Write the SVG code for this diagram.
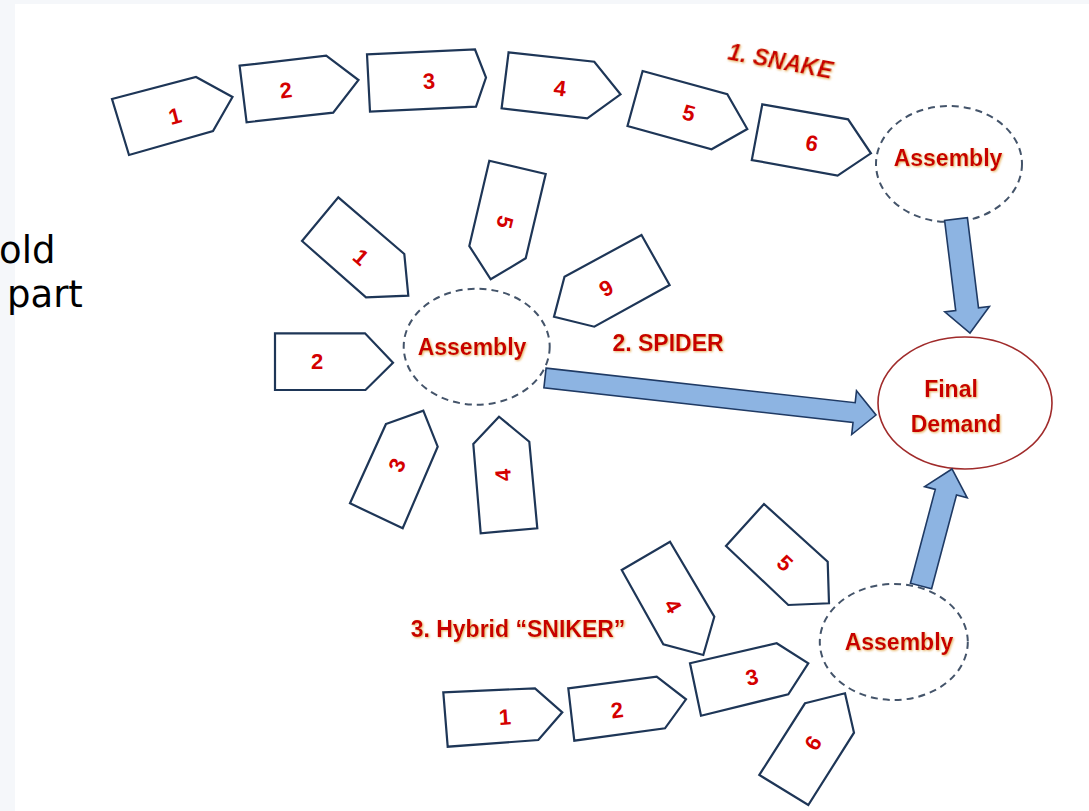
<svg xmlns="http://www.w3.org/2000/svg" width="1089" height="811" viewBox="0 0 1089 811">
<style>
.bg{fill:#f5f7fa}
.panel{fill:#ffffff}
.part{fill:#ffffff;stroke:#1e3657;stroke-width:2.2;stroke-linejoin:miter}
.num{font-family:"Liberation Sans",Arial,sans-serif;font-size:22px;font-weight:bold;fill:#d40000;text-anchor:middle}
.asm{fill:none;stroke:#44546a;stroke-width:2;stroke-dasharray:7 5}
.lbl{font-family:"Liberation Sans",Arial,sans-serif;font-size:23px;font-weight:bold;fill:#c80000;text-anchor:middle;filter:url(#glow)}
.arrow{fill:#8db4e2;stroke:#1f3a64;stroke-width:1.6;stroke-linejoin:miter}
.fd{fill:#ffffff;stroke:#a02b2b;stroke-width:1.6}
.side{font-family:"DejaVu Sans","Liberation Sans",sans-serif;font-size:37px;fill:#000000}
</style>
<defs>
<filter id="glow" x="-10%" y="-30%" width="120%" height="160%">
<feDropShadow dx="1" dy="1" stdDeviation="0.8" flood-color="#e0a040" flood-opacity="0.8"/>
</filter>
</defs>
<rect class="bg" x="0" y="0" width="1089" height="811"/>
<rect class="panel" x="15" y="4" width="1074" height="807"/>
<text class="side" x="-1" y="263">old</text>
<text class="side" x="7" y="307">part</text>

<g id="snake">
<g id="snake-1"><polygon class="part" points="112,99 196,77 232.5,97 213,131 129,155"/><text class="num" transform="translate(175,116) rotate(-15)" dy="0.35em">1</text></g>
<g id="snake-2"><polygon class="part" points="239.6,65.7 326.2,55.7 358.5,80 333.2,112.7 246.6,122.3"/><text class="num" transform="translate(286,90) rotate(-7)" dy="0.35em">2</text></g>
<g id="snake-3"><polygon class="part" points="367,54.3 475,49.5 486,77.5 476,106.7 370,111.7"/><text class="num" transform="translate(429,81) rotate(-3)" dy="0.35em">3</text></g>
<g id="snake-4"><polygon class="part" points="508.6,52.3 594.3,61.7 620.5,94.3 587.3,118.3 501.6,108.3"/><text class="num" transform="translate(560,88) rotate(7)" dy="0.35em">4</text></g>
<g id="snake-5"><polygon class="part" points="642.6,71 727.3,94.3 747.3,129 711.6,149.3 627.5,126"/><text class="num" transform="translate(689,113) rotate(15)" dy="0.35em">5</text></g>
<g id="snake-6"><polygon class="part" points="762.3,104.3 848.1,119.3 870.9,153.3 837.6,175.7 751.8,160"/><text class="num" transform="translate(812,143) rotate(10.6)" dy="0.35em">6</text></g>
<text class="lbl" style="font-style:italic" transform="translate(779,69) rotate(10.6)">1. SNAKE</text>
<g id="snake-assembly"><ellipse class="asm" cx="949" cy="164" rx="73" ry="58"/><text class="lbl" x="948" y="166">Assembly</text></g>
</g>

<g id="spider">
<g id="spider-1"><polygon class="part" points="302,241 338.3,197.3 404.3,254 408.3,295.7 366,297.3"/><text class="num" transform="translate(361,257) rotate(41)" dy="0.35em">1</text></g>
<g id="spider-2"><polygon class="part" points="275,333.3 365,333.3 393,362.7 365.5,390 275,390"/><text class="num" transform="translate(317,361)" dy="0.35em">2</text></g>
<g id="spider-3"><polygon class="part" points="386,424 423.3,410.7 437.7,446.7 402.7,528.3 350,503.3"/><text class="num" transform="translate(397,465) rotate(-66)" dy="0.35em">3</text></g>
<g id="spider-4"><polygon class="part" points="473.3,444 499,416.7 529.3,441.7 537.3,528.3 480.7,533.3"/><text class="num" transform="translate(503,475) rotate(-95)" dy="0.35em">4</text></g>
<g id="spider-5"><polygon class="part" points="489.3,160.7 545.7,174 525.7,258.3 490.7,279.3 469.3,246"/><text class="num" transform="translate(505,222) rotate(103.5)" dy="0.35em">5</text></g>
<g id="spider-9"><polygon class="part" points="641.5,235 669.6,285 594.3,326.7 554,316.7 564.5,276.7"/><text class="num" transform="translate(606,288) rotate(-29)" dy="0.35em">9</text></g>
<text class="lbl" x="668" y="351">2. SPIDER</text>
<g id="spider-assembly"><ellipse class="asm" cx="476.7" cy="346.7" rx="73" ry="58"/><text class="lbl" x="472" y="355">Assembly</text></g>
</g>

<g id="sniker">
<g id="sniker-1"><polygon class="part" points="443.3,692.3 535,688.3 562.3,712.3 538.3,740 447.7,746.7"/><text class="num" transform="translate(505,717) rotate(-3.5)" dy="0.35em">1</text></g>
<g id="sniker-2"><polygon class="part" points="568.3,688.3 656.7,676.7 686,699.3 665,728.3 574.3,740.7"/><text class="num" transform="translate(617,710) rotate(-7.5)" dy="0.35em">2</text></g>
<g id="sniker-3"><polygon class="part" points="690,663.3 776.7,643.3 808.3,663.3 788.3,694.3 701,715.7"/><text class="num" transform="translate(752,677) rotate(-13)" dy="0.35em">3</text></g>
<g id="sniker-4"><polygon class="part" points="621.7,570 670,541.7 714.3,616.7 703.3,655 663.3,644.3"/><text class="num" transform="translate(673,606) rotate(60)" dy="0.35em">4</text></g>
<g id="sniker-5"><polygon class="part" points="764,504 827.7,561.7 829,603.3 788.3,605 726,546"/><text class="num" transform="translate(785,563) rotate(43)" dy="0.35em">5</text></g>
<g id="sniker-6"><polygon class="part" points="805,703.3 845,693.3 854,732.7 808.3,805 759.3,775"/><text class="num" transform="translate(813,743) rotate(-57.6)" dy="0.35em">6</text></g>
<text class="lbl" x="518" y="637">3. Hybrid “SNIKER”</text>
<g id="sniker-assembly"><ellipse class="asm" cx="893.8" cy="642" rx="74" ry="58"/><text class="lbl" x="899" y="650">Assembly</text></g>
</g>

<g id="final-demand"><ellipse class="fd" cx="965" cy="403" rx="87" ry="66"/><text class="lbl" x="951" y="397">Final</text><text class="lbl" x="956" y="432">Demand</text></g>

<g id="connectors">
<polygon class="arrow" points="944.6,220.4 955.7,310.6 944.8,311.9 970,333 989.4,306.5 978.5,307.8 967.4,217.6"/>
<polygon class="arrow" points="546.1,368.1 855.2,402.7 856.5,390.7 876,415 851.7,434.5 853,422.5 543.9,387.9"/>
<polygon class="arrow" points="910.4,583.2 935.3,489.4 924.6,486.6 952,469 967.2,497.8 956.5,495 931.6,588.8"/>
</g>
</svg>
